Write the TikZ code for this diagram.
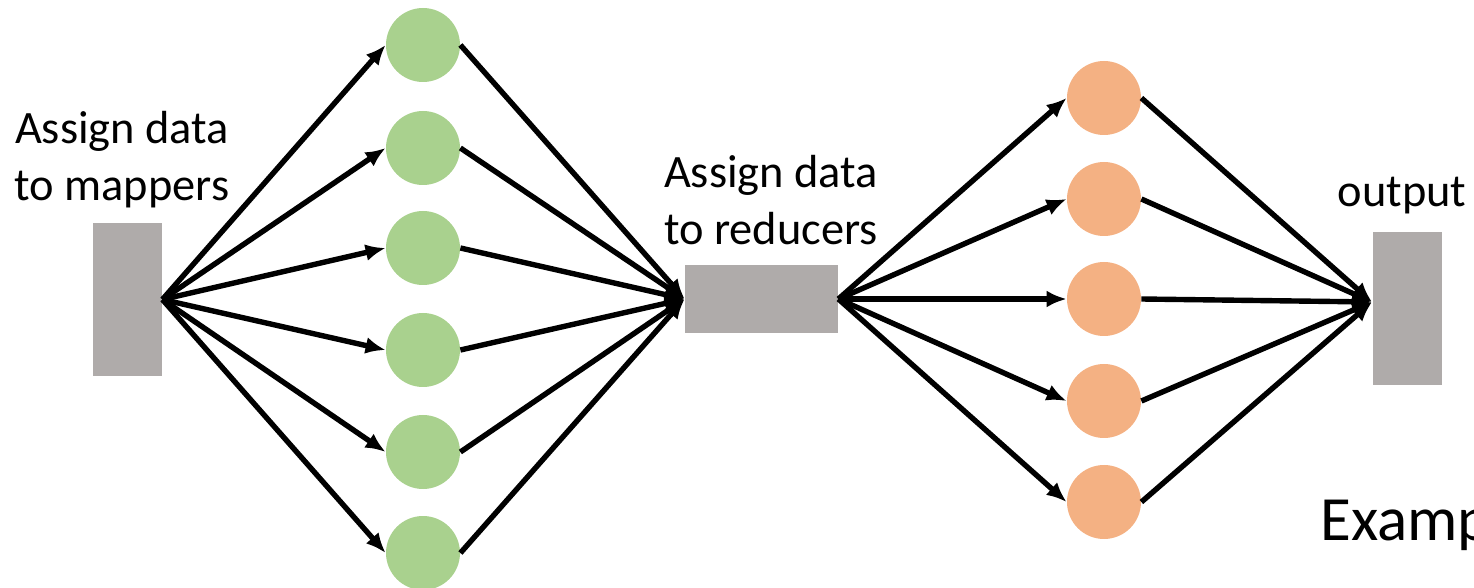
\documentclass[tikz,border=0pt]{standalone}
\usepackage{fontspec}
\setmainfont{Carlito}
\usetikzlibrary{arrows.meta}
\definecolor{boxgrey}{RGB}{175,171,170}
\definecolor{mapgreen}{RGB}{169,209,142}
\definecolor{redorange}{RGB}{244,177,131}
\begin{document}
\begin{tikzpicture}[x=0.5pt,y=-0.5pt,
  blk/.style={fill=boxgrey, inner sep=0},
  mapper/.style={circle, fill=mapgreen, minimum size=37pt, inner sep=0},
  reducer/.style={circle, fill=redorange, minimum size=37pt, inner sep=0},
  lbl/.style={align=center, inner sep=0, font=\fontsize{23.2pt}{28.5pt}\selectfont},
  flow/.style={line width=2.7pt, -{Latex[length=10pt,width=8.5pt]}}]
\useasboundingbox (0,0) rectangle (1474,588);
% input, shuffle and output blocks
\node[blk, minimum width=34.5pt, minimum height=76.5pt] (inp) at (127.5,299.5){};
\node[blk, minimum width=76.5pt, minimum height=34pt] (mid) at (761.5,299){};
\node[blk, minimum width=34.5pt, minimum height=76.5pt] (out) at (1407.5,308.5){};
\coordinate (outin) at (1372,302);
% labels
\node[lbl, anchor=base] (tmap) at (122,201){Assign data\\to mappers};
\node[lbl, anchor=base] (tred) at (771,245){Assign data\\to reducers};
\node[lbl, anchor=base] (tout) at (1402,207){output};
\node[anchor=base west, inner sep=0, font=\fontsize{31.5pt}{38pt}\selectfont] (tex) at (1320,540){Example};
% mappers
\foreach \i/\y in {1/45,2/148,3/248,4/350,5/452,6/553}{
  \node[mapper] (m\i) at (423,\y){};
  \draw[flow] (inp.east) -- (m\i.west);
  \draw[flow] (m\i.east) -- (mid.west);
}
% reducers
\foreach \i/\y in {1/98,2/199,3/299,4/401,5/502}{
  \node[reducer] (r\i) at (1104,\y){};
  \draw[flow] (mid.east) -- (r\i.west);
  \draw[flow] (r\i.east) -- (outin);
}
\end{tikzpicture}
\end{document}
